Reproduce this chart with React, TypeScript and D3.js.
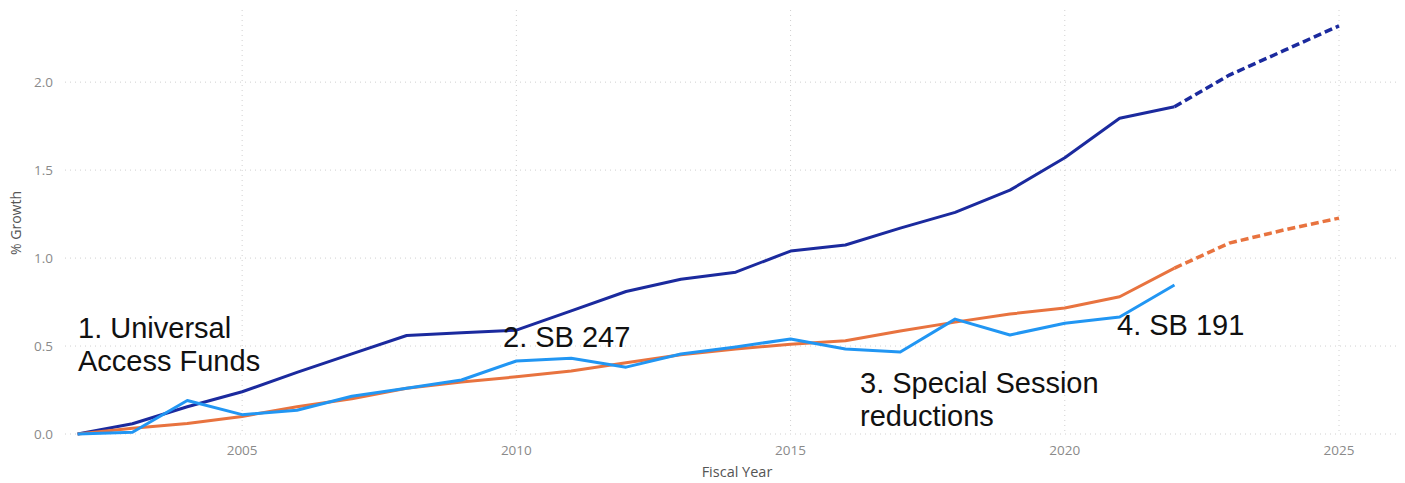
import * as d3 from "d3";

// Fiscal years with actual values, then the projected tail
const years = [2002, 2003, 2004, 2005, 2006, 2007, 2008, 2009, 2010, 2011, 2012, 2013, 2014, 2015, 2016, 2017, 2018, 2019, 2020, 2021, 2022];
const projYears = [2022, 2023, 2024, 2025];

const navySeries = [0, 0.058, 0.155, 0.24, 0.35, 0.455, 0.56, 0.575, 0.59, 0.7, 0.81, 0.88, 0.92, 1.04, 1.074, 1.17, 1.26, 1.386, 1.57, 1.795, 1.86];
const navyProj = [1.86, 2.04, 2.18, 2.32];

const orangeSeries = [0, 0.033, 0.06, 0.1, 0.155, 0.2, 0.26, 0.296, 0.325, 0.358, 0.405, 0.45, 0.483, 0.51, 0.53, 0.585, 0.636, 0.682, 0.716, 0.78, 0.943];
const orangeProj = [0.943, 1.085, 1.16, 1.227];

const blueSeries = [0, 0.01, 0.19, 0.11, 0.135, 0.215, 0.26, 0.307, 0.415, 0.43, 0.38, 0.455, 0.495, 0.54, 0.483, 0.466, 0.653, 0.563, 0.63, 0.665, 0.847];

const xTicks = [2005, 2010, 2015, 2020, 2025];
const yTicks = [0, 0.5, 1.0, 1.5, 2.0];

const notes = [
  ["1. Universal", "Access Funds"],
  ["2. SB 247"],
  ["3. Special Session", "reductions"],
  ["4. SB 191"],
];

const NAVY = "#1b2a9e";
const ORANGE = "#e8733f";
const BLUE = "#2196f3";

export default function App() {
  const W = 1405;
  const H = 483;
  const left = 65, right = 1400, top = 10, bottom = 434;

  const x = d3.scaleLinear().domain([2002, 2025]).range([77.6, 1339]);
  const y = d3.scaleLinear().domain([0, 2.41]).range([bottom, top]);

  const line = d3
    .line<[number, number]>()
    .x((d) => x(d[0]))
    .y((d) => y(d[1]));

  const pts = (xs: number[], vs: number[]) => xs.map((yr, i) => [yr, vs[i]] as [number, number]);

  const tickFont = "'Open Sans', 'DejaVu Sans', sans-serif";
  const noteFont = "'Liberation Sans', Arial, sans-serif";

  return (
    <svg
      width={W}
      height={H}
      style={{ position: "absolute", left: 0, top: 0, background: "#fff" }}
    >
      {/* grid */}
      {yTicks.map((t) => (
        <line key={"gy" + t} x1={left} x2={right} y1={y(t)} y2={y(t)} stroke="#d0d0d0" strokeDasharray="1,4" />
      ))}
      {xTicks.map((t) => (
        <line key={"gx" + t} x1={x(t)} x2={x(t)} y1={top} y2={bottom} stroke="#d0d0d0" strokeDasharray="1,4" />
      ))}

      {/* y axis labels */}
      {yTicks.map((t) => (
        <text key={"ty" + t} x={53} y={y(t) + 5} textAnchor="end" fontFamily={tickFont} fontSize={13.5} fill="#8a8a8a">
          {d3.format(".1f")(t)}
        </text>
      ))}
      <text
        transform={`translate(21,${223}) rotate(-90)`}
        textAnchor="middle"
        fontFamily={tickFont}
        fontSize={14}
        fill="#555"
      >
        % Growth
      </text>

      {/* x axis labels */}
      {xTicks.map((t) => (
        <text key={"tx" + t} x={x(t)} y={455} textAnchor="middle" fontFamily={tickFont} fontSize={13.5} fill="#8a8a8a">
          {t}
        </text>
      ))}
      <text x={737} y={477} textAnchor="middle" fontFamily={tickFont} fontSize={14.5} fill="#555">
        Fiscal Year
      </text>

      {/* series */}
      <path d={line(pts(years, navySeries)) || ""} fill="none" stroke={NAVY} strokeWidth={3} strokeLinejoin="round" />
      <path d={line(pts(projYears, navyProj)) || ""} fill="none" stroke={NAVY} strokeWidth={3.5} strokeDasharray="8,4" />
      <path d={line(pts(years, orangeSeries)) || ""} fill="none" stroke={ORANGE} strokeWidth={3} strokeLinejoin="round" />
      <path d={line(pts(projYears, orangeProj)) || ""} fill="none" stroke={ORANGE} strokeWidth={3.5} strokeDasharray="8,4" />
      <path d={line(pts(years, blueSeries)) || ""} fill="none" stroke={BLUE} strokeWidth={3} strokeLinejoin="round" />

      {/* annotations */}
      <g fontFamily={noteFont} fontSize={29} fill="#111">
        <text x={78} y={338}>
          <tspan x={78}>{notes[0][0]}</tspan>
          <tspan x={78} dy={33}>{notes[0][1]}</tspan>
        </text>
        <text x={503} y={347}>{notes[1][0]}</text>
        <text x={860} y={393}>
          <tspan x={860}>{notes[2][0]}</tspan>
          <tspan x={860} dy={33}>{notes[2][1]}</tspan>
        </text>
        <text x={1117} y={335}>{notes[3][0]}</text>
      </g>
    </svg>
  );
}
